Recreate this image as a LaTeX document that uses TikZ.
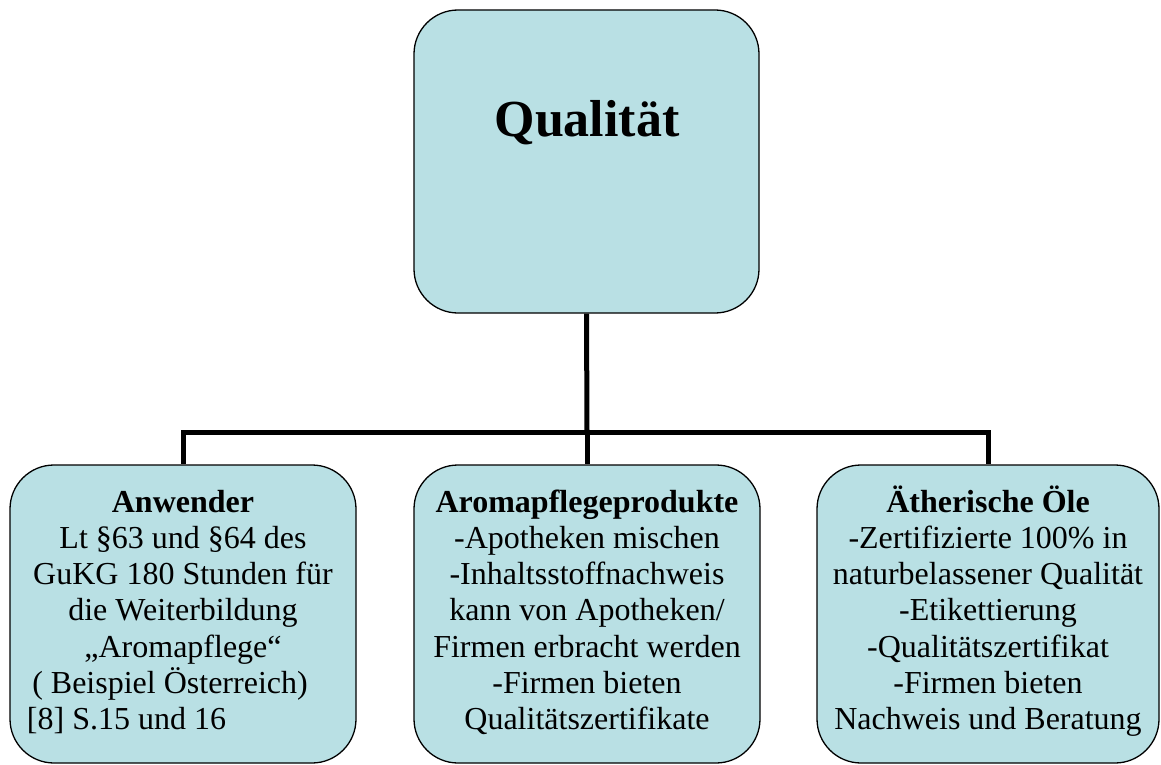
\documentclass[tikz,border=0pt]{standalone}
\usepackage{fontspec}
\setmainfont{Liberation Serif}
\definecolor{boxfill}{RGB}{185,224,228}
\tikzset{
  card/.style={draw=black, line width=1.3pt, fill=boxfill, rounded corners=44pt,
    inner sep=0pt, minimum width=#1, minimum height=298pt},
  card/.default=346pt,
  link/.style={draw=black, line width=5pt},
  body/.style={anchor=base, inner sep=0pt, font=\fontsize{32}{36.3}\selectfont}
}
\newcommand{\cardtext}[1]{\parbox[t]{340pt}{\centering #1}}
\begin{document}
\begin{tikzpicture}[x=1pt, y=-1pt]
  \useasboundingbox (0,0) rectangle (1161,765);

  % header and the three category boxes
  \node[card=345pt, minimum height=303pt] (top) at (586.5,161.5) {};
  \node[card] (left) at (183,614) {};
  \node[card] (mid) at (587,614) {};
  \node[card=342pt] (right) at (988,614) {};

  % tree connectors
  \coordinate (hub) at (587,432);
  \draw[link] (top.south) -- (hub);
  \draw[link] (hub) -| (left.north);
  \draw[link] (hub) -- (mid.north);
  \draw[link] (hub) -| (right.north);

  % texts
  \node[anchor=base, inner sep=0pt, font=\fontsize{52}{60}\selectfont\bfseries]
    (toptext) at (587,136) {Qualität};
  \node[body] (lefttext) at (183,512) {\cardtext{\textbf{Anwender}\\
    Lt §63 und §64 des\\ GuKG 180 Stunden für\\ die Weiterbildung\\
    „Aromapflege“\\ ( Beispiel Österreich)\hspace*{26pt}\mbox{}\\ {[8]} S.15 und 16\hspace*{113pt}\mbox{}}};
  \node[body] (midtext) at (587,512) {\cardtext{\textbf{Aromapflegeprodukte}\\
    -Apotheken mischen\\ -Inhaltsstoffnachweis\\ kann von Apotheken/\\
    Firmen erbracht werden\\ -Firmen bieten\\ Qualitätszertifikate}};
  \node[body] (righttext) at (988,512) {\cardtext{\textbf{Ätherische Öle}\\
    -Zertifizierte 100\% in\\ naturbelassener Qualität\\ -Etikettierung\\
    -Qualitätszertifikat\\ -Firmen bieten\\ Nachweis und Beratung}};
\end{tikzpicture}
\end{document}
